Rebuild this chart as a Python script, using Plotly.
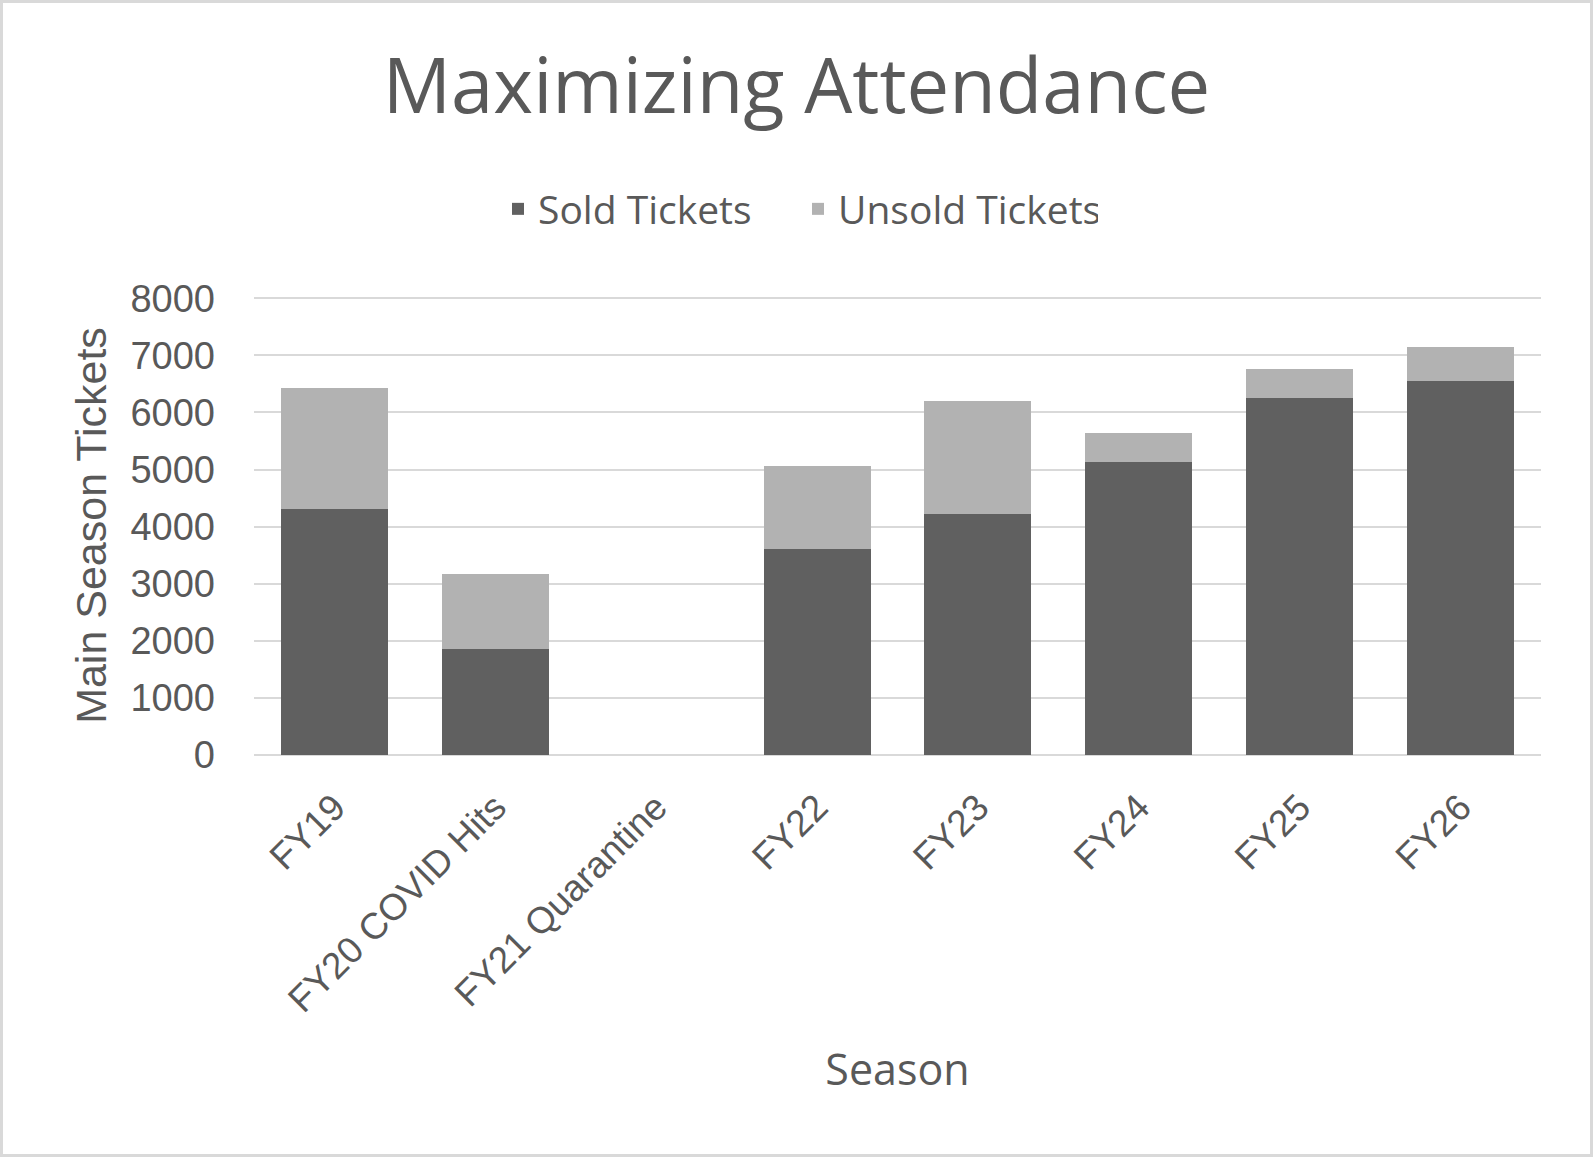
import plotly.graph_objects as go

seasons = ["FY19", "FY20 COVID Hits", "FY21 Quarantine", "FY22", "FY23", "FY24", "FY25", "FY26"]
sold_tickets = [4310, 1860, None, 3610, 4220, 5130, 6250, 6550]
unsold_tickets = [2110, 1310, None, 1450, 1980, 510, 510, 600]
y_ticks = [0, 1000, 2000, 3000, 4000, 5000, 6000, 7000, 8000]

W, H = 1593, 1157
ML, MR, MT, MB = 254, 52, 296, 402
PW, PH = W - ML - MR, H - MT - MB

TEXT = "#595959"
TITLE_FONT = "Open Sans"
AXIS_FONT = "Liberation Sans, Arial"

fig = go.Figure()
fig.add_trace(go.Bar(name="Sold Tickets", x=seasons, y=sold_tickets, marker_color="#606060", marker_line_width=0))
fig.add_trace(go.Bar(name="Unsold Tickets", x=seasons, y=unsold_tickets, marker_color="#b2b2b2", marker_line_width=0))

def px_to_paper_x(px):
    return (px - ML) / PW

def px_to_paper_y(py):
    return (H - MB - py) / PH

fig.update_layout(
    width=W, height=H,
    barmode="stack",
    bargap=0.335,
    plot_bgcolor="white", paper_bgcolor="white",
    margin=dict(l=ML, r=MR, t=MT, b=MB, autoexpand=False),
    title=dict(text="Maximizing Attendance", x=0.5, xanchor="center", xref="container",
               y=1 - 86 / H, yanchor="middle", yref="container",
               font=dict(family=TITLE_FONT, size=76, color=TEXT)),
    legend=dict(orientation="h", x=px_to_paper_x(498), xanchor="left",
                y=px_to_paper_y(209), yanchor="middle",
                font=dict(family=TITLE_FONT, size=39, color=TEXT),
                entrywidth=255, traceorder="normal", bgcolor="rgba(0,0,0,0)"),
    xaxis=dict(tickangle=-45, tickfont=dict(family=AXIS_FONT, size=37, color=TEXT),
               showgrid=False, showline=False, ticks="", ticklabelstandoff=22,
               title=dict(text="Season", font=dict(family=TITLE_FONT, size=43, color=TEXT), standoff=35)),
    yaxis=dict(range=[0, 8040], tickvals=y_ticks, tickfont=dict(family=AXIS_FONT, size=38, color=TEXT),
               showgrid=True, gridcolor="#d9d9d9", gridwidth=2, zeroline=True, zerolinecolor="#d9d9d9",
               zerolinewidth=2, showline=False, ticks="", ticklabelstandoff=38,
               title=dict(text="Main Season Tickets", font=dict(family=AXIS_FONT, size=43, color=TEXT), standoff=10)),
    showlegend=True,
)

fig.add_shape(type="rect", xref="paper", yref="paper",
              x0=px_to_paper_x(1.5), x1=px_to_paper_x(W - 1.5),
              y0=px_to_paper_y(H - 1.5), y1=px_to_paper_y(1.5),
              line=dict(color="#d9d9d9", width=3), fillcolor="rgba(0,0,0,0)", layer="below")

fig.write_html("out.html")
